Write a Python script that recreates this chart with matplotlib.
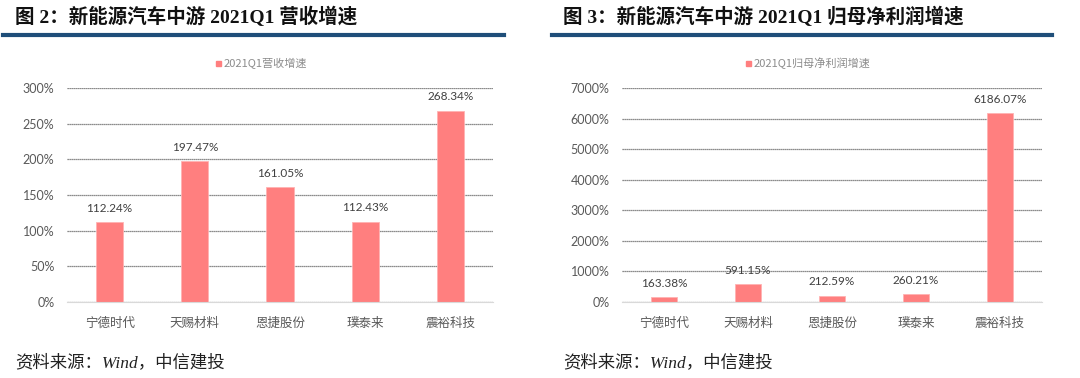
import matplotlib.pyplot as plt
from matplotlib.ticker import FuncFormatter, MultipleLocator
from matplotlib.patches import Rectangle

companies = ["宁德时代", "天赐材料", "恩捷股份", "璞泰来", "震裕科技"]
revenue_growth = [112.24, 197.47, 161.05, 112.43, 268.34]
profit_growth = [163.38, 591.15, 212.59, 260.21, 6186.07]

titles = ["图 2：新能源汽车中游 2021Q1 营收增速",
          "图 3：新能源汽车中游 2021Q1 归母净利润增速"]
legends = ["2021Q1营收增速", "2021Q1归母净利润增速"]
source = "资料来源：Wind，中信建投"

cjk = ["Noto Sans CJK SC", "DejaVu Sans"]
num = ["Lato", "Noto Sans CJK SC"]
serif = ["Liberation Serif", "Noto Sans CJK SC"]
bar_color = "#FF7F7F"
txt = "#595959"

fig = plt.figure(figsize=(10.8, 3.78), dpi=100)

W, H = 1080, 378
panels = [
    dict(x0=67, x1=493, vals=revenue_growth, ymax=300, step=50,
         title_x=15, line=(3, 504), leg_x=216, src_x=15),
    dict(x0=622, x1=1042, vals=profit_growth, ymax=7000, step=1000,
         title_x=563, line=(552, 1052), leg_x=746, src_x=563),
]

for i, p in enumerate(panels):
    ax = fig.add_axes([p["x0"] / W, (H - 302) / H, (p["x1"] - p["x0"]) / W, 214 / H])
    x = range(len(companies))
    bars = ax.bar(x, p["vals"], width=0.32, color=bar_color,
                  edgecolor="#FFB3B3", linewidth=0.6, zorder=3)
    ax.set_xlim(-0.5, len(companies) - 0.5)
    ax.set_ylim(0, p["ymax"])
    ax.yaxis.set_major_locator(MultipleLocator(p["step"]))
    ax.yaxis.set_major_formatter(FuncFormatter(lambda v, pos: "{:.0f}%".format(v)))
    ax.grid(axis="y", color="#666666", linestyle=(0, (1, 0.6)), linewidth=0.9, zorder=0)
    for s in ["top", "right", "left"]:
        ax.spines[s].set_visible(False)
    ax.spines["bottom"].set_color("#d9d9d9")
    ax.spines["bottom"].set_zorder(4)
    ax.tick_params(axis="both", length=0)
    ax.tick_params(axis="y", pad=9, labelsize=9, labelcolor=txt)
    ax.tick_params(axis="x", pad=11)
    for lab in ax.get_yticklabels():
        lab.set_family(num)
    ax.set_xticks(list(x))
    ax.set_xticklabels(companies, family=cjk, fontsize=9, color=txt)
    for b, v in zip(bars, p["vals"]):
        ax.annotate("{:.2f}%".format(v), (b.get_x() + b.get_width() / 2, v),
                    xytext=(0, 6), textcoords="offset points", ha="center", va="bottom",
                    fontsize=8.5, color="#404040", family=num)

    # title and blue rule
    fig.text(p["title_x"] / W, 1 - 17 / H, titles[i], family=serif, fontsize=14,
             fontweight="bold", color="#111111", va="center", ha="left")
    fig.add_artist(plt.Line2D([p["line"][0] / W, p["line"][1] / W], [1 - 34.5 / H] * 2,
                              color="#1F4E79", linewidth=3))
    # legend
    fig.add_artist(Rectangle((p["leg_x"] / W, 1 - 66 / H), 5 / W, 5 / H,
                             color=bar_color, transform=fig.transFigure))
    fig.text((p["leg_x"] + 8) / W, 1 - 63.5 / H, legends[i], family=cjk, fontsize=8,
             color="#8c8c8c", va="center", ha="left")
    # source
    fig.text(p["src_x"] / W, 1 - 363 / H, source, family=serif, style="italic",
             fontsize=12.5, color="#222222", va="center", ha="left")

fig.savefig("out.png", dpi=100)
